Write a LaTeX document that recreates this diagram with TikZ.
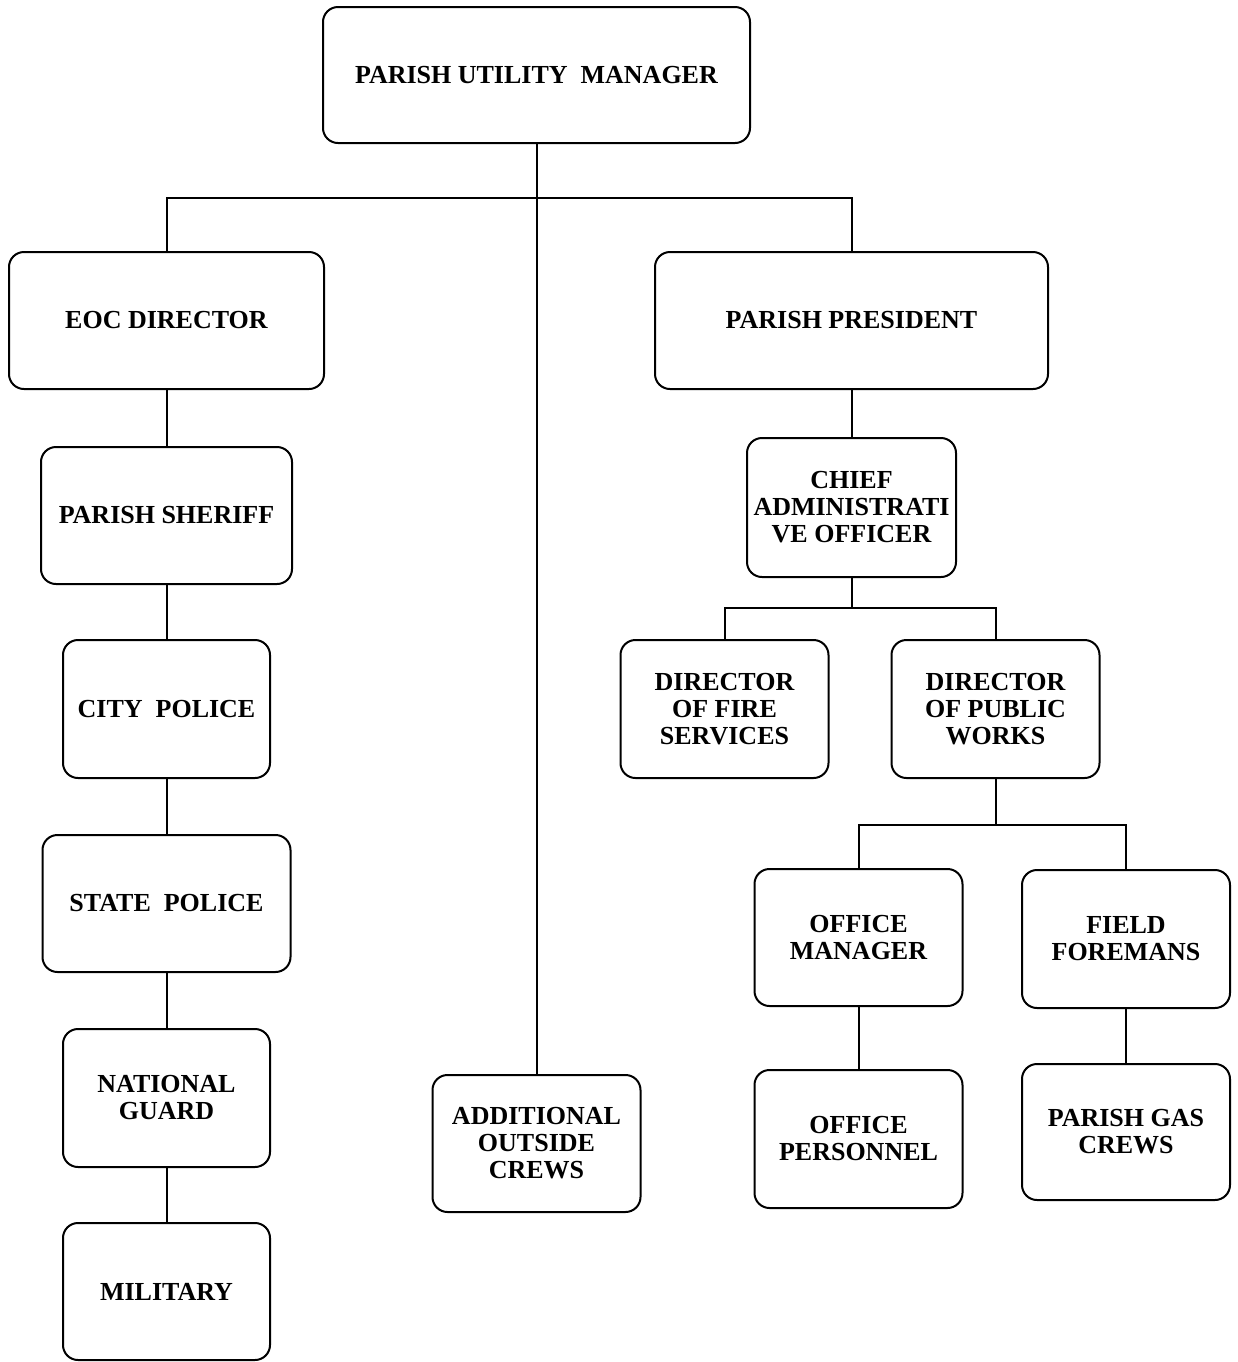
\documentclass[tikz,border=0pt]{standalone}
\usepackage{fontspec}
\setmainfont{Liberation Serif}
\usepackage{tikz}
\usetikzlibrary{calc}

\tikzset{
  orgbox/.style={draw, line width=1pt, rounded corners=7.5pt, align=center,
    inner sep=0pt, font=\fontsize{13}{13.5}\selectfont\bfseries},
  link/.style={line width=1pt}
}

\begin{document}
\begin{tikzpicture}[x=0.5pt,y=-0.5pt]
\useasboundingbox (0,0) rectangle (1238,1362);
\pgfmathsetmacro{\lx}{166.5}
% top and first level
\node[orgbox, minimum width=213.5pt, minimum height=68pt] (pum) at (536.5,75) {PARISH UTILITY~ MANAGER};
\node[orgbox, minimum width=157.5pt, minimum height=68.5pt] (eoc) at (\lx,320.5) {EOC DIRECTOR};
\node[orgbox, minimum width=196.5pt, minimum height=68.5pt] (pres) at (851.5,320.5) {PARISH PRESIDENT};
% left chain
\node[orgbox, minimum width=125.5pt, minimum height=68.5pt] (sheriff) at (\lx,515.5) {PARISH SHERIFF};
\node[orgbox, minimum width=103.5pt, minimum height=69pt] (city) at (\lx,709) {CITY~ POLICE};
\node[orgbox, minimum width=124pt, minimum height=68.5pt] (state) at (\lx,903.5) {STATE~ POLICE};
\node[orgbox, minimum width=103.5pt, minimum height=69pt] (guard) at (\lx,1098) {NATIONAL\\GUARD};
\node[orgbox, minimum width=103.5pt, minimum height=68.5pt] (military) at (\lx,1291.5) {MILITARY};
% middle
\node[orgbox, minimum width=104pt, minimum height=68.5pt] (crews) at (536.5,1143.5) {ADDITIONAL\\OUTSIDE\\CREWS};
% right side
\node[orgbox, minimum width=104.5pt, minimum height=69.5pt] (cao) at (851.5,507.5) {CHIEF\\ADMINISTRATI\\VE OFFICER};
\node[orgbox, minimum width=104pt, minimum height=69pt] (fire) at (724.5,709) {DIRECTOR\\OF FIRE\\SERVICES};
\node[orgbox, minimum width=104pt, minimum height=69pt] (works) at (995.5,709) {DIRECTOR\\OF PUBLIC\\WORKS};
\node[orgbox, minimum width=104pt, minimum height=68.5pt] (offman) at (858.5,937.5) {OFFICE\\MANAGER};
\node[orgbox, minimum width=104pt, minimum height=69pt] (field) at (1126,939) {FIELD\\FOREMANS};
\node[orgbox, minimum width=104pt, minimum height=69pt] (offpers) at (858.5,1139) {OFFICE\\PERSONNEL};
\node[orgbox, minimum width=104pt, minimum height=68pt] (gas) at (1126,1132) {PARISH GAS\\CREWS};
% junctions
\coordinate (j1) at (536.5,198);
\coordinate (j2) at (851.5,608);
\coordinate (j3) at (995.5,825);
% connectors
\draw[link] (pum.south) -- (crews.north);
\draw[link] (eoc.north) |- (j1) -| (pres.north);
\draw[link] (eoc) -- (sheriff) (sheriff) -- (city) (city) -- (state) (state) -- (guard) (guard) -- (military);
\draw[link] (pres) -- (cao);
\draw[link] (cao.south) -- (j2);
\draw[link] (fire.north) |- (j2) -| (works.north);
\draw[link] (works.south) -- (j3);
\draw[link] (offman.north) |- (j3) -| (field.north);
\draw[link] (offman) -- (offpers);
\draw[link] (field) -- (gas);
\end{tikzpicture}
\end{document}
